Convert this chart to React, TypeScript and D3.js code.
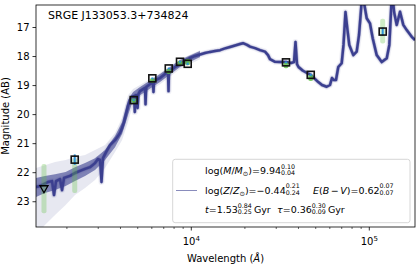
import React from 'react';
import * as d3 from 'd3';

// median model spectrum (observed wavelength in Angstrom, AB mag)
const specWave = [1341, 1413, 1487, 1566, 1650, 1693, 1738, 1830, 1878, 1927, 2082, 2221, 2370, 2529, 2697, 2877, 2991, 3070, 3130, 3191, 3318, 3494, 3727, 3875, 3977, 4081, 4188, 4298, 4410, 4526, 4645, 4766, 4816, 4866, 4954, 4993, 5045, 5150, 5495, 5531, 5580, 5861, 6092, 6131, 6171, 6501, 6672, 7116, 7398, 7446, 7494, 7591, 8099, 8641, 9218, 9833, 10490, 11192, 11940, 12738, 13589, 14497, 15466, 16500, 17603, 18778, 19520, 20555, 21370, 22800, 24322, 25942, 26972, 27677, 29527, 31500, 34041, 36316, 37757, 38494, 39247, 40016, 42413, 47037, 51489, 54227, 57617, 60127, 61700, 63320, 64980, 66940, 69950, 71610, 73490, 75410, 77180, 81290, 84950, 87520, 90640, 92770, 96690, 100900, 104500, 110040, 117430, 125300, 129570, 133300, 135900, 137700, 142570, 148800, 155240, 162280, 173100, 180600];
const specMag = [22.49, 22.46, 22.39, 22.32, 22.29, 22.77, 22.29, 22.22, 22.6, 22.18, 22.11, 22.01, 21.94, 21.87, 21.81, 21.67, 21.53, 21.56, 22.32, 21.5, 21.29, 21.05, 20.88, 20.74, 20.63, 20.46, 20.26, 19.98, 19.7, 19.5, 19.39, 19.36, 19.91, 19.33, 19.33, 19.77, 19.29, 19.19, 19.08, 19.64, 19.05, 18.95, 18.88, 19.22, 18.84, 18.77, 18.74, 18.6, 18.55, 19.19, 18.52, 18.5, 18.36, 18.26, 18.15, 18.05, 17.98, 17.93, 17.88, 17.84, 17.81, 17.78, 17.72, 17.67, 17.62, 17.57, 17.54, 17.6, 17.66, 17.71, 17.78, 17.83, 17.95, 18.09, 18.18, 18.19, 18.19, 18.22, 18.19, 17.5, 18.26, 18.36, 18.49, 18.64, 18.87, 18.98, 19.04, 18.98, 18.74, 18.81, 18.81, 18.36, 18.23, 17.6, 16.47, 17.09, 17.6, 17.95, 17.83, 17.26, 16.1, 16.05, 16.68, 16.86, 17.37, 17.95, 18.19, 18.06, 17.6, 16.1, 16.05, 16.46, 16.91, 16.46, 16.91, 17.09, 17.32, 17.43];

// spread of the posterior spectra (UV / optical)
const bandWave = [1341, 1505, 1715, 1967, 2221, 2529, 2877, 3275, 3727, 4081, 4410, 4706, 5150, 6672, 8641, 11192];
const bandOuterHi = [21.84, 21.74, 21.63, 21.56, 21.46, 21.39, 21.22, 21.05, 20.63, 20.12, 19.33, 19.12, 18.98, 18.57, 18.09, 17.78];
const bandInnerHi = [22.18, 22.11, 22.05, 21.98, 21.81, 21.67, 21.5, 21.22, 20.74, 20.26, 19.5, 19.22, 19.05, 18.6, 18.12, 17.81];
const bandInnerLo = [22.84, 22.7, 22.6, 22.46, 22.29, 22.11, 21.91, 21.56, 21.12, 20.67, 20.01, 19.5, 19.33, 18.88, 18.36, 18.02];
const bandOuterLo = [24.15, 23.8, 23.46, 23.11, 22.77, 22.53, 22.25, 21.84, 21.29, 20.88, 20.26, 19.64, 19.39, 18.95, 18.43, 18.09];

// photometry
const photBand = ['FUV', 'NUV', 'g', 'r', 'i', 'z', 'y', 'W1', 'W2', 'W3'];
const photWave = [1487, 2213, 4747, 6040, 7470, 8641, 9545, 34040, 46880, 118900];
const photMag = [22.57, 21.55, 19.5, 18.75, 18.41, 18.18, 18.25, 18.2, 18.63, 17.14];
const photErr = [0, 0.18, 0.03, 0.03, 0.03, 0.03, 0.04, 0.03, 0.04, 0.14];
const photUpper = [true, false, false, false, false, false, false, false, false, false];
const modelHi = [21.7, 21.5, 19.44, 18.74, 18.42, 18.14, 18.08, 18.2, 18.62, 16.7];
const modelLo = [23.4, 22.7, 19.6, 18.9, 18.6, 18.32, 18.3, 18.4, 18.84, 17.55];

const yTicks = [17, 18, 19, 20, 21, 22, 23];
const xMajor = [1e4, 1e5];

const navy = '#3b3f8f';
const font = 'DejaVu Sans, sans-serif';
const fs = 9.5;
const ss = 6.3;
const ssw = 2.226 * ss; // width of a "0.00" script

function Scripts(props: { sup: string; sub: string; after?: string }) {
  return (
    <>
      <tspan fontSize={ss} dy={-5.5}>{props.sup}</tspan>
      <tspan fontSize={ss} dx={-ssw} dy={6.5}>{props.sub}</tspan>
      {props.after ? <tspan dx={2} dy={-1}>{props.after}</tspan> : null}
    </>
  );
}

export default function App() {
  const x = d3.scaleLog().domain([1341, 180600]).range([36, 415]);
  const y = d3.scaleLinear().domain([16.225, 23.87]).range([5, 227]);
  const [x0, x1] = x.range();
  const [y0, y1] = y.range();

  const spec = specWave.map((w, i) => [w, specMag[i]] as [number, number]);
  const line = d3.line<[number, number]>().x(d => x(d[0])).y(d => y(d[1]));
  const specPath = line(spec) || '';

  const area = (hi: number[], lo: number[]) =>
    d3.area<number>()
      .x((_, i) => x(bandWave[i]))
      .y0((_, i) => y(lo[i]))
      .y1((_, i) => y(hi[i]))(bandWave) || '';

  const minor = x.ticks().filter(t => !xMajor.includes(t) && t > 1341 && t < 180600);

  return (
    <svg width={417} height={273} style={{ position: 'absolute', left: 0, top: 0 }} fontFamily={font}>
      <defs>
        <clipPath id="plot">
          <rect x={x0} y={y0} width={x1 - x0} height={y1 - y0} />
        </clipPath>
      </defs>
      <rect width={417} height={273} fill="#fff" />

      <g clipPath="url(#plot)">
        <path d={area(bandOuterHi, bandOuterLo)} fill={navy} opacity={0.12} />
        <path d={area(bandInnerHi, bandInnerLo)} fill={navy} opacity={0.6} />
        <path d={specPath} fill="none" stroke={navy} strokeWidth={6} opacity={0.08} strokeLinejoin="round" />
        <path d={specPath} fill="none" stroke={navy} strokeWidth={3.6} opacity={0.35} strokeLinejoin="round" />
        <path d={specPath} fill="none" stroke={navy} strokeWidth={2.5} opacity={1} strokeLinejoin="round" />

        {photWave.map((w, i) => {
          const wide = modelLo[i] - modelHi[i] > 0.5;
          return (
            <rect key={'m' + i} x={x(w) - 2.5} width={5} y={y(modelHi[i])}
              height={y(modelLo[i]) - y(modelHi[i])} rx={2}
              fill="#5fc143" opacity={wide ? 0.3 : 0.8} />
          );
        })}

        {photWave.map((w, i) => photErr[i] > 0 ? (
          <line key={'e' + i} x1={x(w)} x2={x(w)} y1={y(photMag[i] - photErr[i])} y2={y(photMag[i] + photErr[i])}
            stroke="#2c93d8" strokeWidth={2} />
        ) : null)}

        {photWave.map((w, i) => {
          const cx = x(w), cy = y(photMag[i]);
          if (photUpper[i]) {
            return <path key={'p' + i} d={`M${cx - 4},${cy - 3.5}L${cx + 4},${cy - 3.5}L${cx},${cy + 3.5}Z`}
              fill="none" stroke="#000" strokeWidth={1.3} />;
          }
          return <rect key={'p' + i} x={cx - 3.5} y={cy - 3.5} width={7} height={7}
            fill="none" stroke="#111" strokeWidth={1.6} />;
        })}
      </g>

      {/* axes */}
      <rect x={x0} y={y0} width={x1 - x0} height={y1 - y0} fill="none" stroke="#000" strokeWidth={0.8} />
      {yTicks.map(t => (
        <g key={'y' + t}>
          <line x1={x0 - 3.5} x2={x0} y1={y(t)} y2={y(t)} stroke="#000" strokeWidth={0.8} />
          <text x={x0 - 6.5} y={y(t) + 3.6} fontSize={10} textAnchor="end">{t}</text>
        </g>
      ))}
      {xMajor.map(t => (
        <g key={'x' + t}>
          <line x1={x(t)} x2={x(t)} y1={y1} y2={y1 + 3.5} stroke="#000" strokeWidth={0.8} />
          <text x={x(t)} y={245} fontSize={10} textAnchor="middle">
            10<tspan fontSize={7} dy={-4}>{Math.round(Math.log10(t))}</tspan>
          </text>
        </g>
      ))}
      {minor.map(t => (
        <line key={'n' + t} x1={x(t)} x2={x(t)} y1={y1} y2={y1 + 2} stroke="#000" strokeWidth={0.6} />
      ))}
      <text x={(x0 + x1) / 2} y={262} fontSize={10} textAnchor="middle">Wavelength (<tspan fontStyle="italic">Å</tspan>)</text>
      <text transform={`translate(9,${(y0 + y1) / 2}) rotate(-90)`} fontSize={10} textAnchor="middle">Magnitude (AB)</text>

      <text x={48} y={19} fontSize={11}>SRGE J133053.3+734824</text>

      {/* legend */}
      <rect x={172.7} y={159.3} width={237.3} height={63.4} rx={2.5} fill="#fff" fillOpacity={0.8} stroke="#cccccc" strokeWidth={0.8} />
      <line x1={176} x2={197} y1={190.5} y2={190.5} stroke={navy} strokeOpacity={0.6} strokeWidth={1} />
      <g fontSize={fs}>
        <text x={205} y={174}>
          log(<tspan fontStyle="italic">M</tspan>/<tspan fontStyle="italic">M</tspan><tspan fontSize={6.5} dy={2}>⊙</tspan><tspan dy={-2}>)=9.94</tspan>
          <Scripts sup="0.10" sub="0.04" />
        </text>
        <text x={205} y={193.5}>
          log(<tspan fontStyle="italic">Z</tspan>/<tspan fontStyle="italic">Z</tspan><tspan fontSize={6.5} dy={2}>⊙</tspan><tspan dy={-2}>)=−0.44</tspan>
          <Scripts sup="0.21" sub="0.24" />
        </text>
        <text x={313} y={193.5}>
          <tspan fontStyle="italic">E</tspan>(<tspan fontStyle="italic">B</tspan><tspan dx={1.5}>−</tspan><tspan dx={1.5} fontStyle="italic">V</tspan>)=0.62
          <Scripts sup="0.07" sub="0.07" />
        </text>
        <text x={205} y={213}>
          <tspan fontStyle="italic">t</tspan>=1.53
          <Scripts sup="0.84" sub="0.25" after="Gyr" />
        </text>
        <text x={277} y={213}>
          <tspan fontStyle="italic">τ</tspan>=0.36
          <Scripts sup="0.30" sub="0.09" after="Gyr" />
        </text>
      </g>
    </svg>
  );
}
